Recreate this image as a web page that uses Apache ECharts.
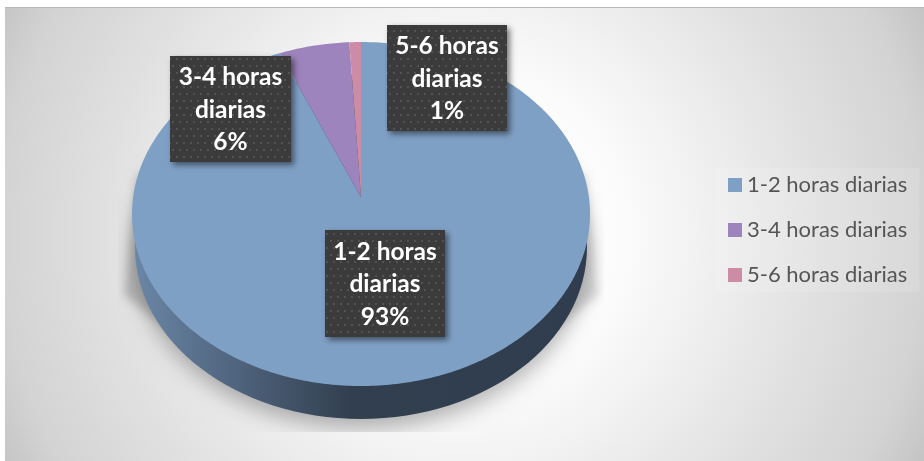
<!DOCTYPE html>
<html><head><meta charset="utf-8">
<style>html,body{margin:0;padding:0;background:#fff}#c{width:924px;height:461px}</style>
<script src="https://cdn.jsdelivr.net/npm/echarts@6/dist/echarts.min.js"></script>
</head><body><div id="c"></div>
<script>
const categories = ['1-2 horas diarias', '3-4 horas diarias', '5-6 horas diarias'];
const values = [93, 6, 1];
const colors = ['#7fa0c5', '#9d84bd', '#cc8ca5'];
const labelBoxes = [[325, 230, 120, 107], [170, 56, 121, 106], [387, 25, 120, 106]];

const P = {cx: 361, cy: 214, rx: 229, ry: 172, ax: 361, ay: 197, kx: 1.2, ky: 1};
const total = values.reduce((a, b) => a + b, 0);
const FONT = 'Lato, Carlito, Calibri, sans-serif';
const OFF = 1500;

const tile = document.createElement('canvas');
tile.width = 7; tile.height = 14;
const tc = tile.getContext('2d');
tc.fillStyle = '#3b3b3b'; tc.fillRect(0, 0, 7, 14);
tc.fillStyle = '#525252'; tc.fillRect(1, 2, 2, 2); tc.fillRect(4, 9, 2, 2);

function edge(theta) {
  const dx = P.kx * Math.sin(theta), dy = -P.ky * Math.cos(theta);
  const ox = (P.ax - P.cx) / P.rx, oy = (P.ay - P.cy) / P.ry;
  const ux = dx / P.rx, uy = dy / P.ry;
  const a = ux * ux + uy * uy, b = 2 * (ox * ux + oy * uy), c = ox * ox + oy * oy - 1;
  const t = (-b + Math.sqrt(b * b - 4 * a * c)) / (2 * a);
  return [P.ax + t * dx, P.ay + t * dy];
}

function slicePoints(v0, v1) {
  const pts = [[P.ax, P.ay]];
  const n = Math.max(4, Math.ceil((v1 - v0) * 4));
  for (let i = 0; i <= n; i++) {
    pts.push(edge((v0 + (v1 - v0) * i / n) / total * Math.PI * 2));
  }
  return pts;
}

const shifted = pts => pts.map(p => [p[0] - OFF, p[1]]);
const softStyle = (blur, color) => ({fill: '#000', shadowBlur: blur, shadowOffsetX: OFF, shadowColor: color});
const softClip = {type: 'rect', shape: {x: 118, y: 150, width: 486, height: 282}};

function backdrop() {
  return [
    {type: 'polygon', silent: true, clipPath: softClip,
      shape: {points: shifted([[137, 175], [124, 295], [175, 335], [190, 175]])},
      style: softStyle(10, 'rgba(120,120,120,.42)')},
    {type: 'polygon', silent: true, clipPath: softClip,
      shape: {points: shifted([[585, 175], [598, 295], [547, 335], [532, 175]])},
      style: softStyle(10, 'rgba(120,120,120,.32)')},
    {type: 'ellipse', silent: true, clipPath: softClip,
      shape: {cx: 361 - OFF, cy: 252, rx: 226, ry: 176},
      style: softStyle(22, 'rgba(0,0,0,.3)')},
    {type: 'ellipse', silent: true,
      shape: {cx: 361, cy: 247, rx: 226, ry: 172},
      style: {fill: {type: 'linear', x: 136, y: 0, x2: 590, y2: 0, global: true, colorStops: [
        {offset: 0, color: '#6a86a6'}, {offset: 0.12, color: '#5b738f'}, {offset: 0.3, color: '#46586f'},
        {offset: 0.47, color: '#323f4f'}, {offset: 1, color: '#2f3d4e'}]}}}
  ];
}

const sliceSeries = categories.map((name, i) => {
  const start = values.slice(0, i).reduce((a, b) => a + b, 0);
  return {
    name, type: 'custom', coordinateSystem: 'none', silent: true, animation: false,
    itemStyle: {color: colors[i]}, z: 2,
    data: [[start, values[i]]],
    renderItem(params, api) {
      const v0 = api.value(0), v1 = v0 + api.value(1);
      const kids = [];
      if (i === 0) kids.push(...backdrop());
      kids.push({type: 'polygon', shape: {points: slicePoints(v0, v1)}, style: {fill: colors[i]}});
      return {type: 'group', children: kids};
    }
  };
});

const labelSeries = {
  type: 'custom', coordinateSystem: 'none', silent: true, animation: false, z: 5,
  data: categories.map((c, i) => [i, values[i]]),
  renderItem(params, api) {
    const i = api.value(0), b = labelBoxes[i];
    return {type: 'group', children: [
      {type: 'rect', shape: {x: b[0], y: b[1], width: b[2], height: b[3]},
        style: {fill: '#3b3b3b', shadowBlur: 6, shadowOffsetX: 3, shadowOffsetY: 3, shadowColor: 'rgba(0,0,0,.5)'}},
      {type: 'rect', shape: {x: b[0], y: b[1], width: b[2], height: b[3]},
        style: {fill: {image: tile, repeat: 'repeat'}}},
      {type: 'text', style: {
        x: b[0] + b[2] / 2, y: b[1] + b[3] / 2 + 1,
        text: categories[i].replace(' diarias', '\ndiarias') + '\n' + api.value(1) + '%',
        fill: '#fff', font: 'bold 24.5px ' + FONT, lineHeight: 32.5,
        align: 'center', verticalAlign: 'middle'}}
    ]};
  }
};

const chart = echarts.init(document.getElementById('c'), null, {renderer: 'canvas'});
chart.setOption({
  animation: false,
  backgroundColor: '#fff',
  graphic: [{type: 'rect', z: -10, silent: true, shape: {x: 5, y: 7, width: 919, height: 454},
    style: {fill: {type: 'radial', x: 462, y: 234, r: 515, global: true, colorStops: [
      {offset: 0, color: '#ffffff'}, {offset: 0.3, color: '#fcfcfc'}, {offset: 0.45, color: '#f2f2f2'},
      {offset: 0.7, color: '#e0e0e0'}, {offset: 0.9, color: '#d3d3d3'}, {offset: 1, color: '#c4c4c4'}]},
      stroke: null}},
    {type: 'rect', z: -9, silent: true, shape: {x: 5, y: 7, width: 919, height: 1}, style: {fill: '#b8b8b8'}}],
  legend: {
    orient: 'vertical', left: 716, top: 168, padding: [6, 12, 6, 12],
    backgroundColor: 'rgba(255,255,255,.12)',
    itemWidth: 14, itemHeight: 14, itemGap: 23,
    icon: 'rect', data: categories, selectedMode: false,
    textStyle: {fontFamily: FONT, fontSize: 22, color: '#555', lineHeight: 22}
  },
  series: [...sliceSeries, labelSeries]
});
</script></body></html>
